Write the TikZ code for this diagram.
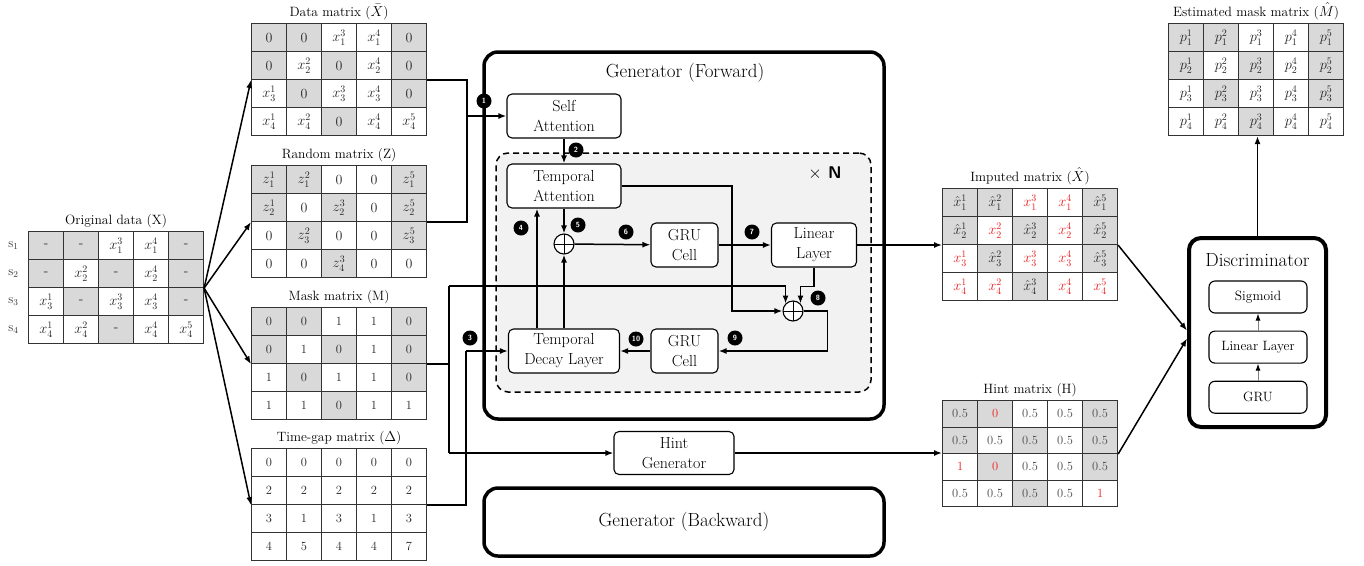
\documentclass[tikz,border=0pt]{standalone}
\usetikzlibrary{positioning,arrows.meta}
\definecolor{mg}{HTML}{D9D9D9}
\definecolor{mw}{HTML}{FFFFFF}
\definecolor{loopfill}{HTML}{F2F2F2}
\definecolor{redval}{HTML}{F01E1E}
\newcommand{\rv}[1]{\textcolor{redval}{#1}}

\begin{document}
\begin{tikzpicture}[
  x=1pt,y=-1pt,
  cell/.style={draw=black!80,line width=1.1pt,minimum width=35pt,minimum height=28pt,inner sep=0pt,anchor=north west,text=black!85,font=\fontsize{14}{16}\selectfont},
  mtitle/.style={font=\fontsize{13.5}{15}\selectfont,inner sep=1pt},
  block/.style={draw=black,fill=white,line width=1.1pt,rounded corners=5pt,align=center,font=\fontsize{16}{20}\selectfont,inner sep=0pt},
  dblock/.style={draw=black,fill=white,line width=1.1pt,rounded corners=6pt,minimum width=98pt,minimum height=32pt,font=\fontsize{13.5}{15}\selectfont},
  bigbox/.style={draw=black,fill=white,line width=3.5pt,rounded corners=14pt},
  badge/.style={circle,fill=black,text=white,minimum size=15pt,inner sep=0pt,font=\sffamily\bfseries\fontsize{7.5}{7.5}\selectfont},
  adder/.style={circle,draw=black,fill=white,line width=1.1pt,minimum size=20pt,inner sep=0pt,path picture={\draw[line width=0.8pt] (path picture bounding box.north) -- (path picture bounding box.south) (path picture bounding box.west) -- (path picture bounding box.east);}},
  link/.style={line width=1.5pt,-{Latex[length=8pt,width=6pt]}},
  wire/.style={line width=1.5pt},
  thinlink/.style={draw=black!50,line width=0.9pt,-{Latex[length=7pt,width=5pt,color=black]}}
]
\useasboundingbox (0,0) rectangle (1364,565);

\foreach \row [count=\r] in {{mg/-,mg/-,mw/$x_1^3$,mw/$x_1^4$,mg/-},{mg/-,mw/$x_2^2$,mg/-,mw/$x_2^4$,mg/-},{mw/$x_3^1$,mg/-,mw/$x_3^3$,mw/$x_3^4$,mg/-},{mw/$x_4^1$,mw/$x_4^2$,mg/-,mw/$x_4^4$,mw/$x_4^5$}}
  \foreach \f/\v [count=\c] in \row
    \node[cell,fill=\f] (org-\r-\c) at ({28+35*(\c-1)},{231+28*(\r-1)}) {\v};
\foreach \r in {1,...,4}
  \node[font=\fontsize{13}{15}\selectfont,text=black!80,left=6pt of org-\r-1] (s\r) {s$_\r$};
\node[mtitle,above=2pt of org-1-3] {Original data (X)};

\foreach \row [count=\r] in {{mg/0,mg/0,mw/$x_1^3$,mw/$x_1^4$,mg/0},{mg/0,mw/$x_2^2$,mg/0,mw/$x_2^4$,mg/0},{mw/$x_3^1$,mg/0,mw/$x_3^3$,mw/$x_3^4$,mg/0},{mw/$x_4^1$,mw/$x_4^2$,mg/0,mw/$x_4^4$,mw/$x_4^5$}}
  \foreach \f/\v [count=\c] in \row
    \node[cell,fill=\f] (dat-\r-\c) at ({251+35*(\c-1)},{23+28*(\r-1)}) {\v};
\node[mtitle,above=2pt of dat-1-3] {Data matrix ($\bar{X}$)};

\foreach \row [count=\r] in {{mg/$z_1^1$,mg/$z_1^2$,mw/0,mw/0,mg/$z_1^5$},{mg/$z_2^1$,mw/0,mg/$z_2^3$,mw/0,mg/$z_2^5$},{mw/0,mg/$z_3^2$,mw/0,mw/0,mg/$z_3^5$},{mw/0,mw/0,mg/$z_4^3$,mw/0,mw/0}}
  \foreach \f/\v [count=\c] in \row
    \node[cell,fill=\f] (rnd-\r-\c) at ({251+35*(\c-1)},{165+28*(\r-1)}) {\v};
\node[mtitle,above=2pt of rnd-1-3] {Random matrix (Z)};

\foreach \row [count=\r] in {{mg/0,mg/0,mw/1,mw/1,mg/0},{mg/0,mw/1,mg/0,mw/1,mg/0},{mw/1,mg/0,mw/1,mw/1,mg/0},{mw/1,mw/1,mg/0,mw/1,mw/1}}
  \foreach \f/\v [count=\c] in \row
    \node[cell,fill=\f,font=\fontsize{12.5}{14}\selectfont] (msk-\r-\c) at ({251+35*(\c-1)},{307+28*(\r-1)}) {\v};
\node[mtitle,above=2pt of msk-1-3] {Mask matrix (M)};

\foreach \row [count=\r] in {{mw/0,mw/0,mw/0,mw/0,mw/0},{mw/2,mw/2,mw/2,mw/2,mw/2},{mw/3,mw/1,mw/3,mw/1,mw/3},{mw/4,mw/5,mw/4,mw/4,mw/7}}
  \foreach \f/\v [count=\c] in \row
    \node[cell,fill=\f,font=\fontsize{12.5}{14}\selectfont] (tim-\r-\c) at ({251+35*(\c-1)},{448+28*(\r-1)}) {\v};
\node[mtitle,above=2pt of tim-1-3] {Time-gap matrix ($\Delta$)};

\foreach \row [count=\r] in {{mg/$\hat{x}_1^1$,mg/$\hat{x}_1^2$,mw/\rv{$x_1^3$},mw/\rv{$x_1^4$},mg/$\hat{x}_1^5$},{mg/$\hat{x}_2^1$,mw/\rv{$x_2^2$},mg/$\hat{x}_2^3$,mw/\rv{$x_2^4$},mg/$\hat{x}_2^5$},{mw/\rv{$x_3^1$},mg/$\hat{x}_3^2$,mw/\rv{$x_3^3$},mw/\rv{$x_3^4$},mg/$\hat{x}_3^5$},{mw/\rv{$x_4^1$},mw/\rv{$x_4^2$},mg/$\hat{x}_4^3$,mw/\rv{$x_4^4$},mw/\rv{$x_4^5$}}}
  \foreach \f/\v [count=\c] in \row
    \node[cell,fill=\f] (imp-\r-\c) at ({942+35*(\c-1)},{188+28*(\r-1)}) {\v};
\node[mtitle,above=2pt of imp-1-3] {Imputed matrix ($\hat{X}$)};

\foreach \row [count=\r] in {{mg/0.5,mg/\rv{0},mw/0.5,mw/0.5,mg/0.5},{mg/0.5,mw/0.5,mg/0.5,mw/0.5,mg/0.5},{mw/\rv{1},mg/\rv{0},mw/0.5,mw/0.5,mg/0.5},{mw/0.5,mw/0.5,mg/0.5,mw/0.5,mw/\rv{1}}}
  \foreach \f/\v [count=\c] in \row
    \node[cell,fill=\f,minimum height=26.5pt,text=black!70,font=\fontsize{12.5}{14}\selectfont] (hnt-\r-\c) at ({942+35*(\c-1)},{400+26.5*(\r-1)}) {\v};
\node[mtitle,above=2pt of hnt-1-3] {Hint matrix (H)};

\foreach \row [count=\r] in {{mg/$p_1^1$,mg/$p_1^2$,mw/$p_1^3$,mw/$p_1^4$,mg/$p_1^5$},{mg/$p_2^1$,mw/$p_2^2$,mg/$p_2^3$,mw/$p_2^4$,mg/$p_2^5$},{mw/$p_3^1$,mg/$p_3^2$,mw/$p_3^3$,mw/$p_3^4$,mg/$p_3^5$},{mw/$p_4^1$,mw/$p_4^2$,mg/$p_4^3$,mw/$p_4^4$,mw/$p_4^5$}}
  \foreach \f/\v [count=\c] in \row
    \node[cell,fill=\f] (est-\r-\c) at ({1168+35*(\c-1)},{23+28*(\r-1)}) {\v};
\node[mtitle,above=2pt of est-1-3] {Estimated mask matrix ($\hat{M}$)};

\node[bigbox,minimum width=400pt,minimum height=367pt] (genf) at (684,235.5) {};
\node[font=\fontsize{19}{22}\selectfont] (genft) at (685,73) {Generator (Forward)};
\node[draw=black,line width=1.5pt,dash pattern=on 6pt off 4pt,rounded corners=12pt,fill=loopfill,minimum width=375pt,minimum height=239pt] (loop) at (683.5,272.5) {};
\node[font=\sffamily\bfseries\fontsize{17}{19}\selectfont] (rep) at (825,173) {$\times$ N};
\node[bigbox,minimum width=400pt,minimum height=68pt,font=\fontsize{19}{22}\selectfont] (genb) at (684,522) {Generator (Backward)};

\node[block,minimum width=114pt,minimum height=44pt] (sa) at (564,116) {Self\\Attention};
\node[block,minimum width=114pt,minimum height=44pt] (ta) at (564,186) {Temporal\\Attention};
\node[adder] (add1) at (564,244) {};
\node[block,minimum width=67pt,minimum height=44pt] (gru1) at (684.5,245) {GRU\\Cell};
\node[block,minimum width=85pt,minimum height=44pt] (lin) at (814,245) {Linear\\Layer};
\node[adder] (add2) at (793,311) {};
\node[block,minimum width=111pt,minimum height=44pt] (tdl) at (564,351) {Temporal\\Decay Layer};
\node[block,minimum width=67pt,minimum height=44pt] (gru2) at (684.5,351) {GRU\\Cell};
\node[block,minimum width=120pt,minimum height=43pt] (hg) at (674,453) {Hint\\Generator};

\node[bigbox,line width=4pt,rounded corners=12pt,minimum width=137pt,minimum height=189pt] (disc) at (1257.5,332.5) {};
\node[font=\fontsize{19}{22}\selectfont] (disct) at (1257.5,260) {Discriminator};
\node[dblock] (sig) at (1258,297) {Sigmoid};
\node[dblock,below=17pt of sig] (dlin) {Linear Layer};
\node[dblock,below=17pt of dlin] (dgru) {GRU};

\draw[link] (org-2-5.south east) -- (dat-2-1.south west);
\draw[link] (org-2-5.south east) -- (rnd-2-1.south west);
\draw[link] (org-2-5.south east) -- (msk-2-1.south west);
\draw[link] (org-2-5.south east) -- (tim-2-1.south west);

\coordinate (jsa) at (467,116);
\coordinate (jmk) at (449,286);
\coordinate (jhg) at (449,453);
\coordinate (jtd) at (466,351);
\coordinate (jta) at (732,311);
\draw[wire] (dat-2-5.south east) -| (jsa);
\draw[wire] (rnd-2-5.south east) -| (jsa);
\draw[link] (jsa) -- (sa.west);
\draw[wire] (msk-2-5.south east) -| (jmk);
\draw[wire] (msk-2-5.south east) -| (jhg);
\draw[link] (jmk) -| (add2.north west);
\draw[link] (jhg) -- (hg.west);
\draw[wire] (tim-2-5.south east) -| (jtd);
\draw[link] (jtd) -- (tdl.west);

\draw[link] (sa) -- (ta);
\draw[link] (ta) -- (add1);
\draw[link] (add1) -- (gru1);
\draw[link] (gru1) -- (lin);
\draw[link] (lin.east) -- (lin.east -| imp-2-1.west);
\draw[link] (ta.east) -| (jta) -- (add2.west);
\draw[link] (lin.south) -- ++(0,19) -| (add2.north east);
\draw[link] (add2.east) -- ++(24,0) |- (gru2.east);
\draw[link] (gru2) -- (tdl);
\draw[link] ([xshift=-27pt]tdl.north) -- ([xshift=-27pt]ta.south);
\draw[link] (tdl) -- (add1);

\draw[link] (hg.east) -- (hg.east -| hnt-2-1.west);
\draw[link] (imp-2-5.south east) -- ([yshift=2pt]disc.west);
\draw[link] (hnt-2-5.south east) -- ([yshift=-6pt]disc.west);
\draw[link] (disc) -- (disc.north |- est-4-3.south);
\draw[thinlink] (dgru) -- (dlin);
\draw[thinlink] (dlin) -- (sig);

\node[badge] (b1) at (484,101) {1};
\node[badge] (b2) at (576,150) {2};
\node[badge] (b3) at (470,338) {3};
\node[badge] (b4) at (521,228) {4};
\node[badge] (b5) at (578,225) {5};
\node[badge] (b6) at (626,232) {6};
\node[badge] (b7) at (752,232) {7};
\node[badge] (b8) at (818,298) {8};
\node[badge] (b9) at (735,338) {9};
\node[badge] (b10) at (636,339) {10};
\end{tikzpicture}
\end{document}
